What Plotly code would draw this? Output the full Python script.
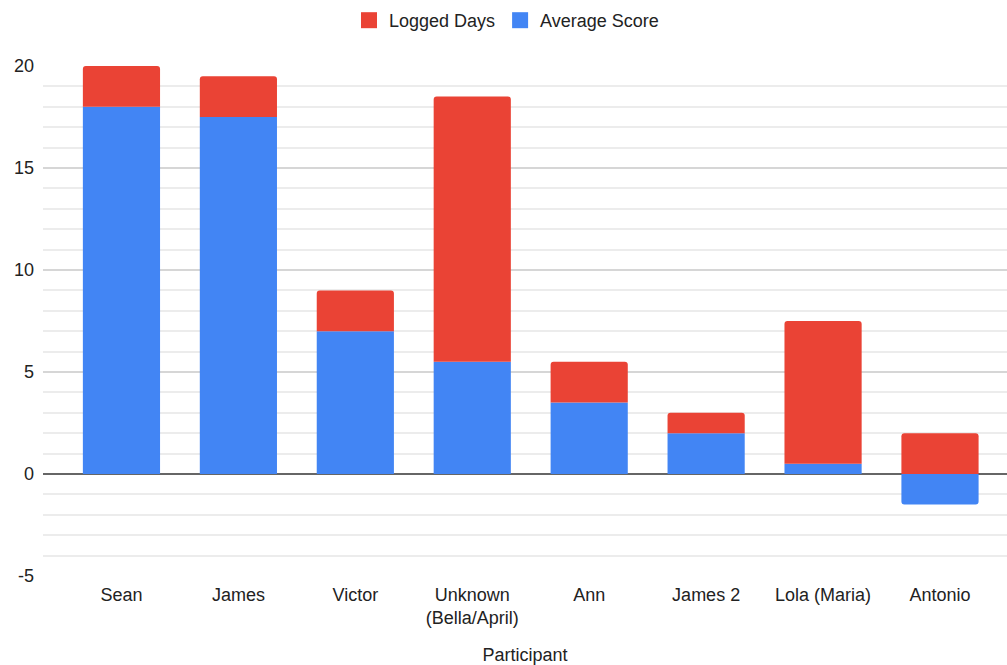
import plotly.graph_objects as go

participants = ["Sean", "James", "Victor", "Unknown<br>(Bella/April)", "Ann",
                "James 2", "Lola (Maria)", "Antonio"]
average_score = [18, 17.5, 7, 5.5, 3.5, 2, 0.5, -1.5]
logged_days = [2, 2, 2, 13, 2, 1, 7, 2]
y_ticks = [-5, 0, 5, 10, 15, 20]
y_tick_text = ["-5", "0", "5", "10", "15", "20"]

BLUE = "#4285F4"
RED = "#EA4335"
TEXT = "#222222"
FONT = "Liberation Sans, Arial, sans-serif"

fig = go.Figure()
fig.add_trace(go.Bar(x=participants, y=average_score, name="Average Score",
                     marker=dict(color=BLUE, line=dict(width=0)),
                     showlegend=False))
fig.add_trace(go.Bar(x=participants, y=logged_days, name="Logged Days",
                     marker=dict(color=RED, line=dict(width=0)),
                     showlegend=False))

# legend entries with larger square swatches
for name, color in [("Logged Days", RED), ("Average Score", BLUE)]:
    fig.add_trace(go.Scatter(x=[None], y=[None], mode="markers", name=name,
                             marker=dict(symbol="square", size=18, color=color)))

fig.update_layout(
    width=1007, height=665,
    barmode="relative",
    bargap=0.34,
    barcornerradius=3,
    plot_bgcolor="white",
    paper_bgcolor="white",
    font=dict(family=FONT, size=18, color=TEXT),
    margin=dict(l=43, r=0, t=66, b=89),
    legend=dict(orientation="h", traceorder="normal",
                xref="container", yref="container",
                x=0.503, xanchor="center", y=0.997, yanchor="top",
                font=dict(size=18, color=TEXT), itemwidth=30),
    xaxis=dict(
        range=[-0.671, 7.573],
        showgrid=False, showline=False, zeroline=False,
        ticks="", tickfont=dict(size=18, color=TEXT),
        ticklabelstandoff=6,
        title=dict(text="Participant", font=dict(size=18, color=TEXT), standoff=24),
    ),
    yaxis=dict(
        range=[-5, 20],
        tickvals=y_ticks, ticktext=y_tick_text,
        showgrid=True, gridcolor="#d6d6d6", gridwidth=1.5,
        minor=dict(dtick=1, showgrid=True, gridcolor="#ececec", gridwidth=1.5),
        zeroline=True, zerolinecolor="#666666", zerolinewidth=1.5,
        showline=False, ticks="",
        tickfont=dict(size=18, color=TEXT),
        ticklabelstandoff=8,
    ),
)

fig.write_html("out.html")
